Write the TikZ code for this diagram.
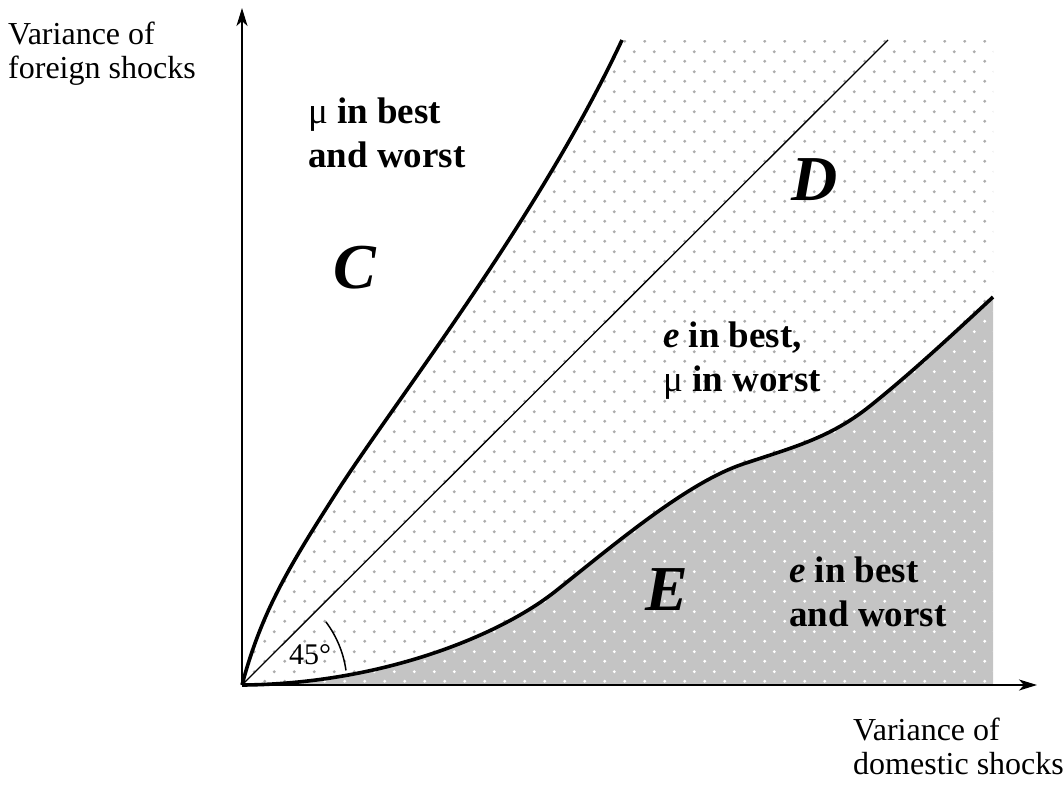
\documentclass[tikz,border=0pt]{standalone}
\usepackage{fontspec}
\setmainfont{Liberation Serif}
\usetikzlibrary{arrows.meta,patterns}
\pgfdeclarepatternformonly{mydots}{\pgfqpoint{0pt}{0pt}}{\pgfqpoint{20pt}{20pt}}{\pgfqpoint{20pt}{20pt}}{%
  \pgfpathcircle{\pgfqpoint{5pt}{5pt}}{1.7pt}%
  \pgfpathcircle{\pgfqpoint{15pt}{15pt}}{1.7pt}%
  \pgfusepath{fill}}
\definecolor{dotgray}{gray}{0.68}
\definecolor{egray}{gray}{0.77}
\begin{document}
\begin{tikzpicture}[x=1pt,y=-1pt,
  axis/.style={line width=2pt,-{Stealth[length=18pt,width=11pt,inset=5pt]}},
  bound/.style={line width=3.6pt},
  axlabel/.style={font=\fontsize{32}{34}\selectfont,align=left,inner sep=0pt},
  reglabel/.style={font=\fontsize{37}{44}\selectfont\bfseries,align=left,inner sep=0pt},
  bigletter/.style={font=\fontsize{64}{64}\selectfont\bfseries\itshape,inner sep=0pt},
  anglabel/.style={font=\fontsize{30}{30}\selectfont,inner sep=0pt}]
\useasboundingbox (0,0) rectangle (1064,785);
\coordinate (O) at (242,685);
\coordinate (Ytip) at (242,8);
\coordinate (Xtip) at (1037,685);
\coordinate (Ctop) at (622,40);
\coordinate (Dtop) at (888,40);
\coordinate (Eend) at (993,297);
% region D
\path[pattern=mydots,pattern color=dotgray]
  (242,685) .. controls (262,610) and (290,565) .. (340,487) .. controls (400,395) and (540,215) .. (622,40)
  -- (993,40) -- (993,297)
  .. controls (950,337) and (910,374) .. (870,406)
  .. controls (830,438) and (793,447.3) .. (743,464)
  .. controls (689,482) and (620,539.6) .. (557,590)
  .. controls (500,636) and (380,684) .. (242,685) -- cycle;
% region E
\fill[egray] (242,685) .. controls (380,684) and (500,636) .. (557,590)
  .. controls (620,539.6) and (689,482) .. (743,464)
  .. controls (793,447.3) and (830,438) .. (870,406)
  .. controls (910,374) and (950,337) .. (993,297) -- (993,685) -- cycle;
\path[pattern=mydots,pattern color=white] (242,685) .. controls (380,684) and (500,636) .. (557,590)
  .. controls (620,539.6) and (689,482) .. (743,464)
  .. controls (793,447.3) and (830,438) .. (870,406)
  .. controls (910,374) and (950,337) .. (993,297) -- (993,685) -- cycle;
% curves
\draw[bound] (O) .. controls (262,610) and (290,565) .. (340,487) .. controls (400,395) and (540,215) .. (Ctop);
\draw[bound] (O) .. controls (380,684) and (500,636) .. (557,590)
  .. controls (620,539.6) and (689,482) .. (743,464)
  .. controls (793,447.3) and (830,438) .. (870,406)
  .. controls (910,374) and (950,337) .. (Eend);
\draw[line width=1.3pt] (O) -- (Dtop);
% angle arc
\draw[line width=1.5pt] (O) ++(-8:105) arc[start angle=-8,end angle=-37,radius=105];
% axes
\draw[axis] (O) -- (Ytip);
\draw[axis] (O) -- (Xtip);
% labels
\node[axlabel,anchor=north west] (ylab) at (8,22) {Variance of\\foreign shocks};
\node[axlabel,anchor=north west] (xlab) at (853,718) {Variance of\\domestic shocks};
\node[reglabel,anchor=north west] (lC) at (308,98) {{\mdseries μ} in best\\and worst};
\node[reglabel,anchor=north west] (lD) at (663,322) {\textit{e} in best,\\{\mdseries μ} in worst};
\node[reglabel,anchor=north west] (lE) at (789,557) {\textit{e} in best\\and worst};
\node[bigletter] (C) at (355,268) {C};
\node[bigletter] (D) at (815,180) {D};
\node[bigletter] (E) at (667,590) {E};
\node[anglabel] (ang) at (310,655) {45°};
\end{tikzpicture}
\end{document}
